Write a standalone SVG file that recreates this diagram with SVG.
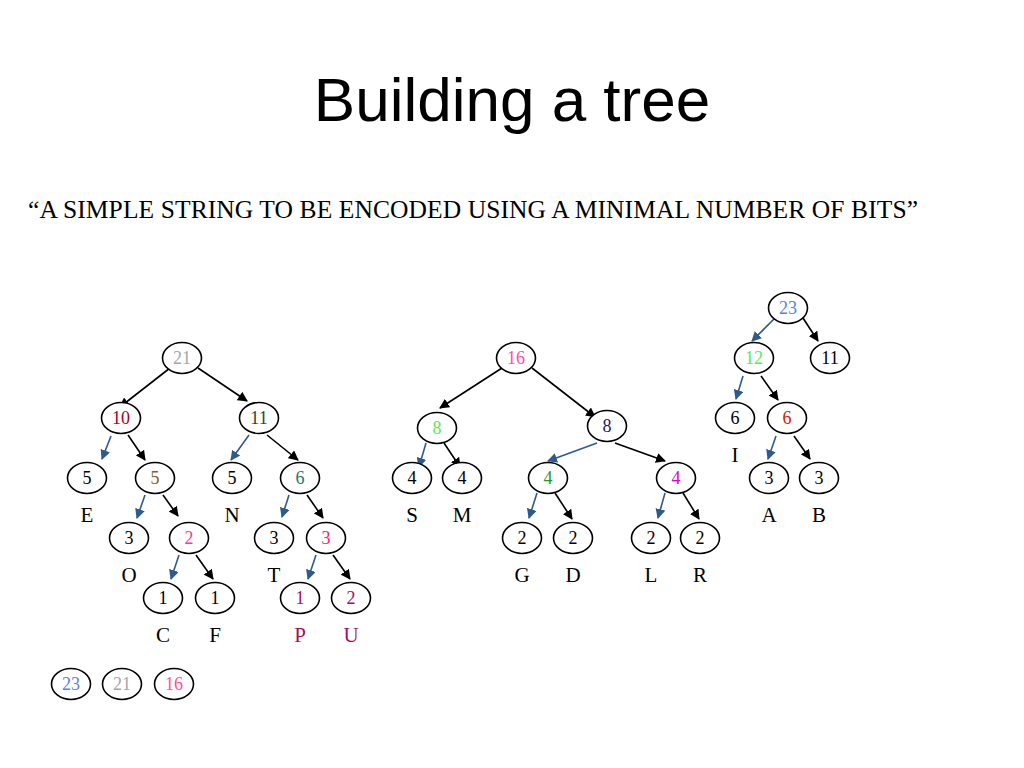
<svg xmlns="http://www.w3.org/2000/svg" width="1024" height="768" viewBox="0 0 1024 768">
<style>
  .n ellipse { fill: #fff; stroke: #000; stroke-width: 1.6; }
  .n text { font-family: "Liberation Serif", serif; font-size: 18px; text-anchor: middle; }
  .lbl { font-family: "Liberation Serif", serif; font-size: 21px; text-anchor: middle; }
  .b line { stroke: #000; stroke-width: 1.6; marker-end: url(#ak); }
  .u line { stroke: #2e5a8c; stroke-width: 1.6; marker-end: url(#au); }
</style>
<defs>
  <marker id="ak" viewBox="0 0 10 10" refX="9" refY="5" markerWidth="10" markerHeight="10" markerUnits="userSpaceOnUse" orient="auto"><path d="M0,0 L10,5 L0,10 z" fill="#000"/></marker>
  <marker id="au" viewBox="0 0 10 10" refX="9" refY="5" markerWidth="10" markerHeight="10" markerUnits="userSpaceOnUse" orient="auto"><path d="M0,0 L10,5 L0,10 z" fill="#2e5a8c"/></marker>
</defs>
<rect width="1024" height="768" fill="#fff"/>
<text x="512" y="121" font-family="Liberation Sans, Arial, sans-serif" font-size="62" text-anchor="middle">Building a tree</text>
<text x="28" y="218" font-family="Liberation Serif, serif" font-size="25.5" textLength="890" lengthAdjust="spacing">“A SIMPLE STRING TO BE ENCODED USING A MINIMAL NUMBER OF BITS”</text>

<g id="connectors">
  <g class="b">
    <line x1="170" y1="368" x2="120" y2="407"/>
    <line x1="198" y1="368" x2="247" y2="401"/>
    <line x1="128" y1="435" x2="145" y2="460"/>
    <line x1="267" y1="435" x2="298" y2="460"/>
    <line x1="163" y1="495" x2="178" y2="516"/>
    <line x1="307" y1="495" x2="323" y2="518"/>
    <line x1="196" y1="555" x2="213" y2="579"/>
    <line x1="333" y1="555" x2="350" y2="579"/>
    <line x1="502" y1="368" x2="440" y2="408"/>
    <line x1="532" y1="368" x2="595" y2="417"/>
    <line x1="444" y1="443" x2="460" y2="467"/>
    <line x1="615" y1="443" x2="665" y2="461"/>
    <line x1="555" y1="493" x2="572" y2="519"/>
    <line x1="683" y1="493" x2="699" y2="519"/>
    <line x1="803" y1="318" x2="818" y2="341"/>
    <line x1="761" y1="376" x2="778" y2="400"/>
    <line x1="794" y1="436" x2="810" y2="459"/>
  </g>
  <g class="u">
    <line x1="111" y1="436" x2="102" y2="459"/>
    <line x1="249" y1="435" x2="231" y2="460"/>
    <line x1="145" y1="495" x2="137" y2="518"/>
    <line x1="289" y1="495" x2="282" y2="517"/>
    <line x1="179" y1="555" x2="171" y2="579"/>
    <line x1="316" y1="555" x2="308" y2="579"/>
    <line x1="426" y1="443" x2="419" y2="467"/>
    <line x1="597" y1="443" x2="548" y2="461"/>
    <line x1="537" y1="493" x2="529" y2="518"/>
    <line x1="665" y1="493" x2="658" y2="518"/>
    <line x1="775" y1="318" x2="752" y2="341"/>
    <line x1="743" y1="376" x2="736" y2="399"/>
    <line x1="776" y1="436" x2="768" y2="459"/>
  </g>
</g>

<g id="t1-21" class="n"><ellipse cx="182" cy="358" rx="19.5" ry="15.5"/><text x="182" y="364" fill="#a6a6a6">21</text></g>
<g id="t1-10" class="n"><ellipse cx="121" cy="418" rx="19.5" ry="15.5"/><text x="121" y="424" fill="#a50021">10</text></g>
<g id="t1-11" class="n"><ellipse cx="259" cy="418" rx="19.5" ry="15.5"/><text x="259" y="424" fill="#1e4d1e">11</text></g>
<g id="t1-5e" class="n"><ellipse cx="87" cy="478" rx="19.5" ry="15.5"/><text x="87" y="484">5</text></g>
<g id="t1-5b" class="n"><ellipse cx="155" cy="478" rx="19.5" ry="15.5"/><text x="155" y="484" fill="#8a5a28">5</text></g>
<g id="t1-5n" class="n"><ellipse cx="232" cy="478" rx="19.5" ry="15.5"/><text x="232" y="484">5</text></g>
<g id="t1-6" class="n"><ellipse cx="300" cy="478" rx="19.5" ry="15.5"/><text x="300" y="484" fill="#257566">6</text></g>
<g id="t1-3o" class="n"><ellipse cx="129" cy="538" rx="19.5" ry="15.5"/><text x="129" y="544">3</text></g>
<g id="t1-2" class="n"><ellipse cx="189" cy="538" rx="19.5" ry="15.5"/><text x="189" y="544" fill="#ff3399">2</text></g>
<g id="t1-3t" class="n"><ellipse cx="274" cy="538" rx="19.5" ry="15.5"/><text x="274" y="544">3</text></g>
<g id="t1-3p" class="n"><ellipse cx="326" cy="538" rx="19.5" ry="15.5"/><text x="326" y="544" fill="#ff1a75">3</text></g>
<g id="t1-1c" class="n"><ellipse cx="163" cy="598" rx="19.5" ry="15.5"/><text x="163" y="604">1</text></g>
<g id="t1-1f" class="n"><ellipse cx="215" cy="598" rx="19.5" ry="15.5"/><text x="215" y="604">1</text></g>
<g id="t1-1p" class="n"><ellipse cx="300" cy="598" rx="19.5" ry="15.5"/><text x="300" y="604" fill="#a0105a">1</text></g>
<g id="t1-2u" class="n"><ellipse cx="351" cy="598" rx="19.5" ry="15.5"/><text x="351" y="604" fill="#a0105a">2</text></g>

<g id="t2-16" class="n"><ellipse cx="516" cy="358" rx="19.5" ry="15.5"/><text x="516" y="364" fill="#ff4fa3">16</text></g>
<g id="t2-8g" class="n"><ellipse cx="437" cy="428" rx="19.5" ry="15.5"/><text x="437" y="434" fill="#5ee65e">8</text></g>
<g id="t2-8n" class="n"><ellipse cx="607" cy="426" rx="19.5" ry="15.5"/><text x="607" y="432" fill="#1a1a66">8</text></g>
<g id="t2-4s" class="n"><ellipse cx="412" cy="478" rx="19.5" ry="15.5"/><text x="412" y="484">4</text></g>
<g id="t2-4m" class="n"><ellipse cx="462" cy="478" rx="19.5" ry="15.5"/><text x="462" y="484">4</text></g>
<g id="t2-4g" class="n"><ellipse cx="548" cy="478" rx="19.5" ry="15.5"/><text x="548" y="484" fill="#1f9a1f">4</text></g>
<g id="t2-4p" class="n"><ellipse cx="676" cy="478" rx="19.5" ry="15.5"/><text x="676" y="484" fill="#dd00dd">4</text></g>
<g id="t2-2g" class="n"><ellipse cx="522" cy="538" rx="19.5" ry="15.5"/><text x="522" y="544">2</text></g>
<g id="t2-2d" class="n"><ellipse cx="573" cy="538" rx="19.5" ry="15.5"/><text x="573" y="544">2</text></g>
<g id="t2-2l" class="n"><ellipse cx="651" cy="538" rx="19.5" ry="15.5"/><text x="651" y="544">2</text></g>
<g id="t2-2r" class="n"><ellipse cx="700" cy="538" rx="19.5" ry="15.5"/><text x="700" y="544">2</text></g>

<g id="t3-23" class="n"><ellipse cx="788" cy="308" rx="19.5" ry="15.5"/><text x="788" y="314" fill="#5b7fe8">23</text></g>
<g id="t3-12" class="n"><ellipse cx="754" cy="358" rx="19.5" ry="15.5"/><text x="754" y="364" fill="#55ee55">12</text></g>
<g id="t3-11" class="n"><ellipse cx="830" cy="358" rx="19.5" ry="15.5"/><text x="830" y="364">11</text></g>
<g id="t3-6i" class="n"><ellipse cx="735" cy="418" rx="19.5" ry="15.5"/><text x="735" y="424">6</text></g>
<g id="t3-6r" class="n"><ellipse cx="787" cy="418" rx="19.5" ry="15.5"/><text x="787" y="424" fill="#cc2200">6</text></g>
<g id="t3-3a" class="n"><ellipse cx="769" cy="478" rx="19.5" ry="15.5"/><text x="769" y="484">3</text></g>
<g id="t3-3b" class="n"><ellipse cx="819" cy="478" rx="19.5" ry="15.5"/><text x="819" y="484">3</text></g>

<g id="queue-23" class="n"><ellipse cx="71" cy="684" rx="19.5" ry="15.5"/><text x="71" y="690" fill="#5b7fe8">23</text></g>
<g id="queue-21" class="n"><ellipse cx="122" cy="684" rx="19.5" ry="15.5"/><text x="122" y="690" fill="#a6a6a6">21</text></g>
<g id="queue-16" class="n"><ellipse cx="174" cy="684" rx="19.5" ry="15.5"/><text x="174" y="690" fill="#ff4fa3">16</text></g>

<g id="labels">
  <text class="lbl" x="87" y="522">E</text>
  <text class="lbl" x="232" y="522">N</text>
  <text class="lbl" x="129" y="582">O</text>
  <text class="lbl" x="274" y="582">T</text>
  <text class="lbl" x="163" y="642">C</text>
  <text class="lbl" x="215" y="642">F</text>
  <text class="lbl" x="300" y="642" fill="#a0105a">P</text>
  <text class="lbl" x="351" y="642" fill="#a0105a">U</text>
  <text class="lbl" x="412" y="522">S</text>
  <text class="lbl" x="462" y="522">M</text>
  <text class="lbl" x="522" y="582">G</text>
  <text class="lbl" x="573" y="582">D</text>
  <text class="lbl" x="651" y="582">L</text>
  <text class="lbl" x="700" y="582">R</text>
  <text class="lbl" x="735" y="462">I</text>
  <text class="lbl" x="769" y="522">A</text>
  <text class="lbl" x="819" y="522">B</text>
</g>
</svg>
